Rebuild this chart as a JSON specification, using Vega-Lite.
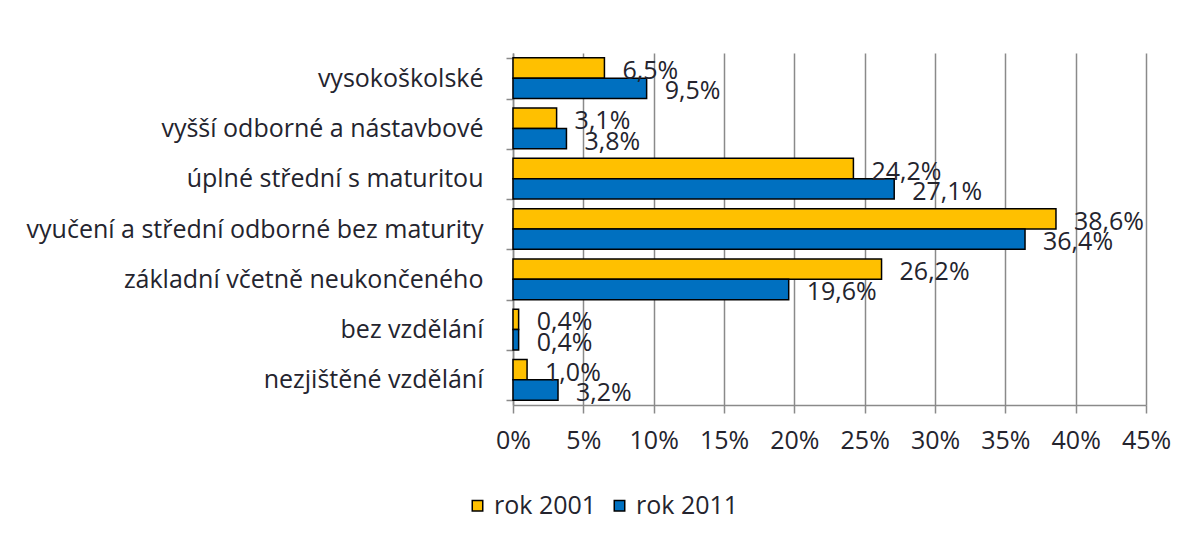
{
  "$schema": "https://vega.github.io/schema/vega-lite/v6.json",
  "width": 633,
  "height": 352,
  "autosize": {"type": "none"},
  "padding": {"left": 513, "top": 53, "right": 52, "bottom": 140},
  "background": "white",
  "config": {
    "locale": {"number": {"decimal": ",", "thousands": " ", "grouping": [3], "currency": ["", " Kč"]}},
    "view": {"stroke": null},
    "font": "Open Sans",
    "axis": {"labelFont": "Open Sans", "labelFontSize": 25, "labelFontWeight": 500, "labelColor": "#24242e", "domainColor": "#8a8a8a", "domainWidth": 1.5, "tickColor": "#8a8a8a", "tickWidth": 1.5, "gridColor": "#8a8a8a", "gridWidth": 1.5}
  },
  "data": {
    "values": [
      {"kategorie": "vysokoškolské", "rok": "rok 2001", "podil": 0.065},
      {"kategorie": "vysokoškolské", "rok": "rok 2011", "podil": 0.095},
      {"kategorie": "vyšší odborné a nástavbové", "rok": "rok 2001", "podil": 0.031},
      {"kategorie": "vyšší odborné a nástavbové", "rok": "rok 2011", "podil": 0.038},
      {"kategorie": "úplné střední s maturitou", "rok": "rok 2001", "podil": 0.242},
      {"kategorie": "úplné střední s maturitou", "rok": "rok 2011", "podil": 0.271},
      {"kategorie": "vyučení a střední odborné bez maturity", "rok": "rok 2001", "podil": 0.386},
      {"kategorie": "vyučení a střední odborné bez maturity", "rok": "rok 2011", "podil": 0.364},
      {"kategorie": "základní včetně neukončeného", "rok": "rok 2001", "podil": 0.262},
      {"kategorie": "základní včetně neukončeného", "rok": "rok 2011", "podil": 0.196},
      {"kategorie": "bez vzdělání", "rok": "rok 2001", "podil": 0.004},
      {"kategorie": "bez vzdělání", "rok": "rok 2011", "podil": 0.004},
      {"kategorie": "nezjištěné vzdělání", "rok": "rok 2001", "podil": 0.010},
      {"kategorie": "nezjištěné vzdělání", "rok": "rok 2011", "podil": 0.032}
    ]
  },
  "encoding": {
    "y": {
      "field": "kategorie", "type": "nominal", "sort": null, "title": null,
      "scale": {"paddingInner": 0.19, "paddingOuter": 0.095},
      "axis": {"tickBand": "extent", "tickSize": 7, "labelPadding": 23, "grid": false, "labelLimit": 600}
    },
    "yOffset": {"field": "rok", "type": "nominal", "sort": ["rok 2001", "rok 2011"]},
    "x": {
      "field": "podil", "type": "quantitative", "title": null,
      "scale": {"domain": [0, 0.45], "nice": false},
      "axis": {"values": [0, 0.05, 0.1, 0.15, 0.2, 0.25, 0.3, 0.35, 0.4, 0.45], "format": ".0%", "tickSize": 8, "labelPadding": 15, "labelFlush": false, "labelOverlap": false, "grid": true}
    }
  },
  "layer": [
    {
      "mark": {"type": "bar", "stroke": "black", "strokeWidth": 1.5},
      "encoding": {
        "color": {
          "field": "rok", "type": "nominal",
          "scale": {"domain": ["rok 2001", "rok 2011"], "range": ["#FFC000", "#0070C0"]},
          "legend": {
            "title": null, "orient": "none", "direction": "horizontal", "legendX": -48, "legendY": 440,
            "symbolType": "square", "symbolSize": 110, "symbolStrokeColor": "black", "symbolStrokeWidth": 1.5,
            "labelFont": "Open Sans", "labelFontSize": 25, "labelFontWeight": 500, "labelColor": "#24242e", "labelOffset": 4, "columnPadding": 10
          }
        }
      }
    },
    {
      "mark": {"type": "text", "align": "left", "baseline": "middle", "dx": 18, "dy": 3, "fontSize": 25, "fontWeight": 500, "font": "Open Sans", "color": "#24242e"},
      "encoding": {"text": {"field": "podil", "type": "quantitative", "format": ".1%"}}
    }
  ]
}
